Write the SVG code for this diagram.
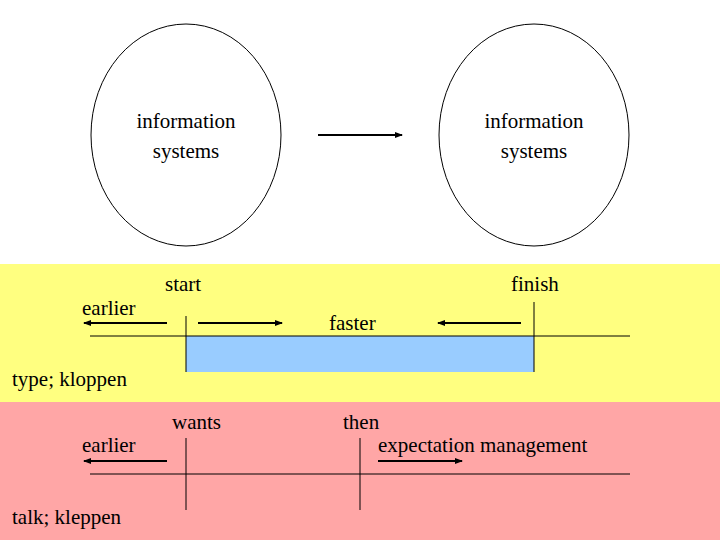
<svg xmlns="http://www.w3.org/2000/svg" width="720" height="540" viewBox="0 0 720 540">
<defs><marker id="ah" markerWidth="8" markerHeight="6" refX="7" refY="3" orient="auto" markerUnits="userSpaceOnUse"><path d="M0,0 L8,3 L0,6 z" fill="#000"/></marker></defs>
<style>text{font-family:"Liberation Serif",serif;font-size:21px;fill:#000}.l{stroke:#000;stroke-width:1;fill:none}.a{stroke:#000;stroke-width:2;marker-end:url(#ah)}</style>
<rect x="0" y="0" width="720" height="540" fill="#fff"/>
<rect x="0" y="264" width="720" height="138" fill="#ffff80"/>
<rect x="0" y="402" width="720" height="138" fill="#ffa6a6"/>
<g id="left-system"><ellipse cx="186" cy="135" rx="95" ry="111" class="l"/><text x="186" y="128" text-anchor="middle">information</text><text x="186" y="158" text-anchor="middle">systems</text></g>
<g id="right-system"><ellipse cx="534" cy="135" rx="95" ry="111" class="l"/><text x="534" y="128" text-anchor="middle">information</text><text x="534" y="158" text-anchor="middle">systems</text></g>
<g id="band-type"><rect x="186" y="336" width="348" height="36" fill="#99ccff"/>
<text x="165" y="291">start</text><text x="511" y="291">finish</text><text x="82" y="315">earlier</text><text x="329" y="330">faster</text><text x="12" y="386">type; kloppen</text></g>
<g id="band-talk"><text x="172" y="429">wants</text><text x="343" y="429">then</text><text x="82" y="452">earlier</text><text x="378" y="452">expectation management</text><text x="12" y="524">talk; kleppen</text></g>
<g id="connectors">
<line class="a" x1="318" y1="135" x2="402" y2="135"/>
<line class="l" x1="90" y1="336" x2="630" y2="336"/>
<line class="l" x1="186" y1="316" x2="186" y2="372"/>
<line class="l" x1="534" y1="302" x2="534" y2="372"/>
<line class="a" x1="167" y1="323" x2="84" y2="323"/>
<line class="a" x1="198" y1="323" x2="282" y2="323"/>
<line class="a" x1="521" y1="323" x2="438" y2="323"/>
<line class="l" x1="90" y1="474" x2="630" y2="474"/>
<line class="l" x1="186" y1="438" x2="186" y2="510"/>
<line class="l" x1="360" y1="438" x2="360" y2="510"/>
<line class="a" x1="167" y1="461" x2="84" y2="461"/>
<line class="a" x1="378" y1="461" x2="462" y2="461"/>
</g>
</svg>
